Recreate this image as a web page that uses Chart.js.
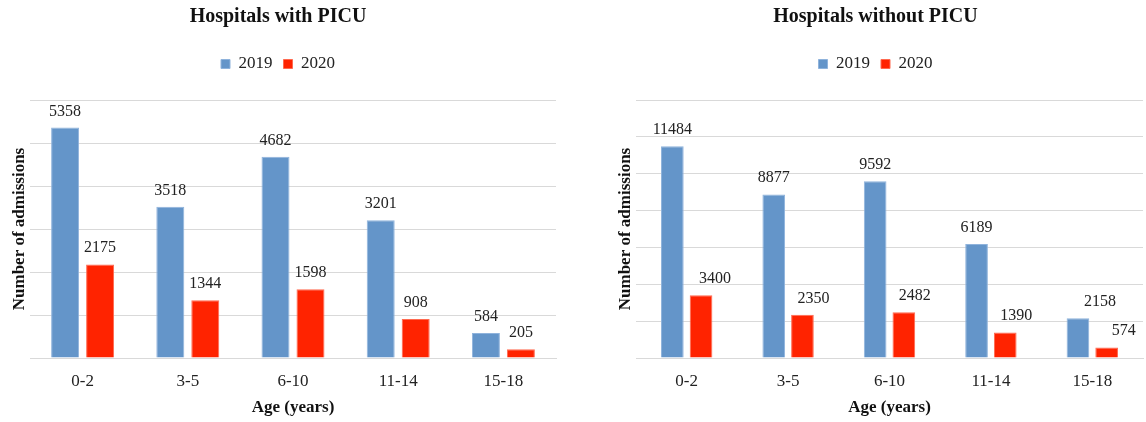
<!DOCTYPE html>
<html>
<head>
<meta charset="utf-8">
<script src="https://cdn.jsdelivr.net/npm/chart.js@4.4.1/dist/chart.umd.min.js"></script>
<style>
  html, body { margin: 0; padding: 0; background: #fff; }
  .wrap { position: absolute; top: 0; height: 422px; }
  #leftWrap { left: 0; width: 560px; }
  #rightWrap { left: 608px; width: 538px; }
</style>
</head>
<body>
<div class="wrap" id="leftWrap"><canvas id="picuChart"></canvas></div>
<div class="wrap" id="rightWrap"><canvas id="noPicuChart"></canvas></div>
<script>
// ------------------------------
// Data
// ------------------------------
const ageGroups = ['0-2', '3-5', '6-10', '11-14', '15-18'];
const years = ['2019', '2020'];

const picu2019 = [5358, 3518, 4682, 3201, 584];
const picu2020 = [2175, 1344, 1598, 908, 205];

const noPicu2019 = [11484, 8877, 9592, 6189, 2158];
const noPicu2020 = [3400, 2350, 2482, 1390, 574];

const BLUE = '#6495C9';
const RED = '#FF2300';
const SERIF = "'Liberation Serif', 'Times New Roman', serif";

Chart.defaults.font.family = SERIF;
Chart.defaults.color = '#222';
Chart.defaults.animation = false;

// ------------------------------
// Value labels above each bar
// ------------------------------
const barLabels = {
  id: 'barLabels',
  afterDatasetsDraw(chart) {
    const ctx = chart.ctx;
    ctx.save();
    ctx.font = '16px ' + SERIF;
    ctx.fillStyle = '#222';
    ctx.textAlign = 'center';
    ctx.textBaseline = 'alphabetic';
    chart.data.datasets.forEach((ds, i) => {
      const shift = ds.labelShift || [];
      chart.getDatasetMeta(i).data.forEach((bar, j) => {
        ctx.fillText(String(ds.data[j]), bar.x + (shift[j] || 0), bar.y - 12);
      });
    });
    ctx.restore();
  }
};

function buildChart(canvasId, title, s2019, s2020, opts) {
  const ctx = document.getElementById(canvasId);
  return new Chart(ctx, {
    type: 'bar',
    data: {
      labels: ageGroups,
      datasets: [
        { label: years[0], data: s2019, backgroundColor: BLUE, borderColor: '#8fb3dc', borderWidth: 1,
          categoryPercentage: opts.cat, barPercentage: opts.bar, labelShift: opts.shift2019 },
        { label: years[1], data: s2020, backgroundColor: RED, borderColor: '#ff6a50', borderWidth: 1,
          categoryPercentage: opts.cat, barPercentage: opts.bar, labelShift: opts.shift2020 }
      ]
    },
    options: {
      responsive: true,
      maintainAspectRatio: false,
      layout: { padding: { left: 0, right: opts.padRight, top: 0, bottom: 0 } },
      plugins: {
        title: {
          display: true,
          text: title,
          color: '#111',
          font: { size: 20, weight: 'bold' },
          padding: { top: 5, bottom: 15.5 }
        },
        legend: {
          position: 'top',
          labels: {
            boxWidth: 9,
            boxHeight: 9,
            padding: 11,
            color: '#222',
            font: { size: 17 }
          }
        },
        // blank spacer between legend and plot
        subtitle: {
          display: true,
          text: ' ',
          position: 'top',
          weight: 500,
          font: { size: 1 },
          padding: { top: 16.3, bottom: 0 }
        },
        tooltip: { enabled: false }
      },
      scales: {
        x: {
          grid: { display: false, drawTicks: false },
          border: { display: true, color: '#d9d9d9' },
          ticks: { color: '#222', font: { size: 17 }, padding: 13.5 },
          title: {
            display: true,
            text: 'Age (years)',
            color: '#111',
            font: { size: 17, weight: 'bold' },
            padding: { top: 0, bottom: 3.8 }
          },
          afterFit: s => { s.height = 64; }
        },
        y: {
          min: 0,
          max: opts.max,
          ticks: { display: false, stepSize: opts.step },
          grid: { color: '#d9d9d9', drawTicks: false },
          border: { display: false },
          title: {
            display: true,
            text: 'Number of admissions',
            color: '#111',
            font: { size: 17, weight: 'bold' },
            padding: { top: opts.titlePad, bottom: 0 }
          },
          afterFit: s => { s.width = opts.axisWidth; }
        }
      }
    },
    plugins: [barLabels]
  });
}

buildChart('picuChart', 'Hospitals with PICU', picu2019, picu2020, {
  max: 6000, step: 1000, cat: 0.665, bar: 0.8,
  axisWidth: 30, titlePad: 9.5, padRight: 4
});

buildChart('noPicuChart', 'Hospitals without PICU', noPicu2019, noPicu2020, {
  max: 14000, step: 2000, cat: 0.566, bar: 0.79,
  axisWidth: 28, titlePad: 7.5, padRight: 3,
  shift2019: [0, 0, 0, 0, 22],
  shift2020: [14, 11, 11, 11, 17]
});
</script>
</body>
</html>
